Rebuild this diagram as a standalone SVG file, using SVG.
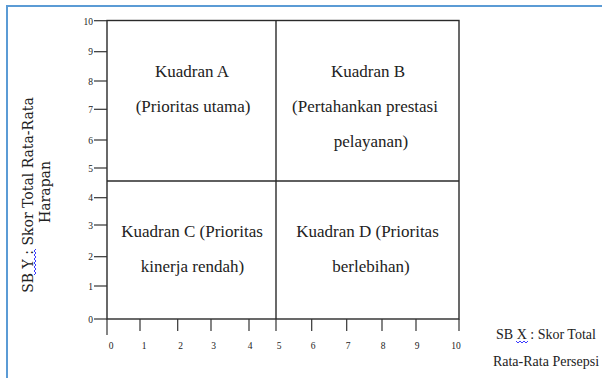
<svg xmlns="http://www.w3.org/2000/svg" width="602" height="378" viewBox="0 0 602 378">
<style>
.frame{stroke:#5b9bd5;stroke-width:2;fill:none}
.ax{stroke:#2a2a2a;stroke-width:1.4;fill:none}
.tk{stroke:#333;stroke-width:1.2}
.num{font-size:9.5px;fill:#222}
.q{font-size:17px;fill:#222;text-anchor:middle}
.lbl{font-size:14px;fill:#222;text-anchor:middle}
.xl{font-size:14px;fill:#222;text-anchor:middle}
.wavy{stroke:#3a3aff;stroke-width:1;fill:none}
</style>
<rect width="602" height="378" fill="#ffffff"/>
<path class="frame" d="M7,378 V6 H602"/>
<g id="axes">
<rect class="ax" x="107" y="20.5" width="352" height="298.5"/>
<line class="ax" x1="276" y1="20.5" x2="276" y2="319"/>
<line class="ax" x1="107" y1="181" x2="459" y2="181"/>
</g>
<g id="y-ticks">
<g class="tk">
<line x1="94" y1="20.7" x2="107" y2="20.7"/>
<line x1="94" y1="51.7" x2="107" y2="51.7"/>
<line x1="94" y1="81" x2="107" y2="81"/>
<line x1="94" y1="109.3" x2="107" y2="109.3"/>
<line x1="94" y1="140" x2="107" y2="140"/>
<line x1="94" y1="168" x2="107" y2="168"/>
<line x1="94" y1="197.7" x2="107" y2="197.7"/>
<line x1="94" y1="225" x2="107" y2="225"/>
<line x1="94" y1="256.7" x2="107" y2="256.7"/>
<line x1="94" y1="286" x2="107" y2="286"/>
<line x1="94" y1="319" x2="107" y2="319"/>
</g>
<g class="num" text-anchor="end" font-family="Times New Roman, Liberation Serif, serif">
<text x="93" y="24.5">10</text>
<text x="93" y="55.2">9</text>
<text x="93" y="84.5">8</text>
<text x="93" y="112.8">7</text>
<text x="93" y="143.5">6</text>
<text x="93" y="171.5">5</text>
<text x="93" y="201.2">4</text>
<text x="93" y="228.5">3</text>
<text x="93" y="260.2">2</text>
<text x="93" y="289.5">1</text>
<text x="93" y="322.5">0</text>
</g>
</g>
<g id="x-ticks">
<g class="tk">
<line x1="107" y1="319" x2="107" y2="335"/>
<line x1="140" y1="319" x2="140" y2="331"/>
<line x1="177.7" y1="319" x2="177.7" y2="331"/>
<line x1="211" y1="319" x2="211" y2="331"/>
<line x1="249" y1="319" x2="249" y2="331"/>
<line x1="276" y1="319" x2="276" y2="331"/>
<line x1="311.7" y1="319" x2="311.7" y2="331"/>
<line x1="346.7" y1="319" x2="346.7" y2="331"/>
<line x1="382" y1="319" x2="382" y2="331"/>
<line x1="416" y1="319" x2="416" y2="331"/>
<line x1="459" y1="319" x2="459" y2="331"/>
</g>
<g class="num" text-anchor="middle" font-family="Times New Roman, Liberation Serif, serif">
<text x="111" y="349">0</text>
<text x="144" y="349">1</text>
<text x="180.5" y="349">2</text>
<text x="213.5" y="349">3</text>
<text x="250" y="349">4</text>
<text x="279" y="349">5</text>
<text x="313" y="349">6</text>
<text x="348" y="349">7</text>
<text x="383" y="349">8</text>
<text x="417" y="349">9</text>
<text x="456" y="349">10</text>
</g>
</g>
<g id="kuadran-a" font-family="Times New Roman, Liberation Serif, serif">
<text class="q" x="192" y="77">Kuadran A</text>
<text class="q" x="193" y="112">(Prioritas utama)</text>
</g>
<g id="kuadran-b" font-family="Times New Roman, Liberation Serif, serif">
<text class="q" x="368" y="77">Kuadran B</text>
<text class="q" x="365" y="112">(Pertahankan prestasi</text>
<text class="q" x="371" y="147">pelayanan)</text>
</g>
<g id="kuadran-c" font-family="Times New Roman, Liberation Serif, serif">
<text class="q" x="192" y="237">Kuadran C (Prioritas</text>
<text class="q" x="192.5" y="272">kinerja rendah)</text>
</g>
<g id="kuadran-d" font-family="Times New Roman, Liberation Serif, serif">
<text class="q" x="367.5" y="237">Kuadran D (Prioritas</text>
<text class="q" x="371" y="272">berlebihan)</text>
</g>
<g id="y-label" font-family="DejaVu Serif, serif">
<text class="lbl" transform="translate(33,195) rotate(-90)">SB Y : Skor Total Rata-Rata</text>
<text class="lbl" transform="translate(50,192) rotate(-90)">Harapan</text>
<path class="wavy" d="M34,275 L36,273 L34,271 L36,269 L34,267 L36,265 L34,263 L36,261 L34,259 L36,257 L34,255 L36,253 L34,251 L36,249"/>
</g>
<g id="x-label" font-family="Times New Roman, Liberation Serif, serif">
<text class="xl" x="546" y="339">SB X : Skor Total</text>
<text class="xl" x="546" y="366">Rata-Rata Persepsi</text>
<path class="wavy" d="M516,341 L518,343 L520,341 L522,343 L524,341 L526,343 L528,341"/>
</g>
</svg>
